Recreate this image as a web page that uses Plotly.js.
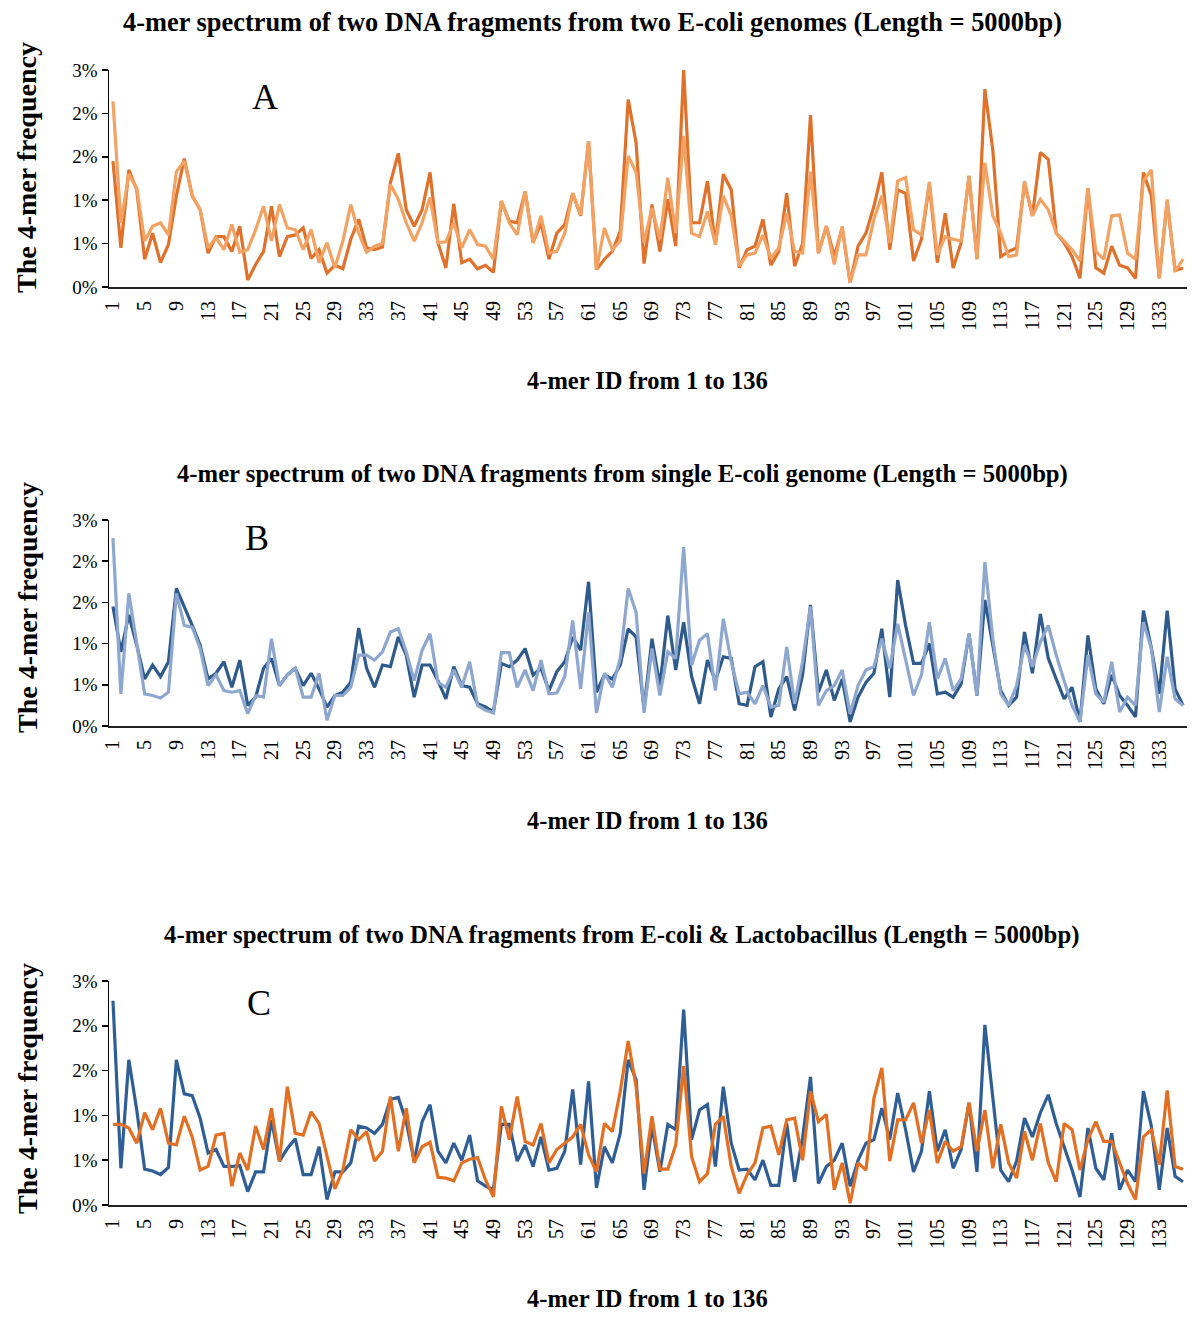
<!DOCTYPE html>
<html>
<head>
<meta charset="utf-8">
<script src="https://cdn.plot.ly/plotly-3.0.1.min.js"></script>
<style>html,body{margin:0;padding:0;background:#fff;}#chart{width:1200px;height:1321px;}</style>
</head>
<body>
<div id="chart"></div>
<script>
// 4-mer IDs (categories 1..136)
const kmerIds = [];
for (let i = 1; i <= 136; i++) kmerIds.push(i);

const xTickVals = [1,5,9,13,17,21,25,29,33,37,41,45,49,53,57,61,65,69,73,77,81,85,89,93,97,101,105,109,113,117,121,125,129,133];
const yTickVals = [0, 0.5, 1, 1.5, 2, 2.5];
const yTickText = ['0%','1%','1%','2%','2%','3%'];

const panelTitles = [
  '4-mer spectrum of two DNA fragments from two E-coli genomes (Length = 5000bp)',
  '4-mer spectrum of two DNA fragments from single E-coli genome (Length = 5000bp)',
  '4-mer spectrum of two DNA fragments from E-coli &amp; Lactobacillus (Length = 5000bp)'
];
const panelLetters = ['A','B','C'];
const xTitle = '4-mer ID from 1 to 136';
const yTitle = 'The 4-mer frequency';

// Panel A (values in %)
const ecoliGenome1 = [1.45,0.45,1.35,1.12,0.32,0.62,0.28,0.49,1.05,1.48,
 1.05,0.89,0.39,0.58,0.58,0.41,0.70,0.08,0.26,0.41,
 0.93,0.35,0.58,0.60,0.68,0.33,0.43,0.16,0.25,0.21,
 0.55,0.78,0.45,0.43,0.46,1.20,1.54,0.89,0.70,0.89,
 1.32,0.51,0.22,0.96,0.28,0.32,0.21,0.25,0.17,0.99,
 0.76,0.74,1.10,0.51,0.74,0.32,0.62,0.72,1.08,0.82,
 1.68,0.20,0.32,0.41,0.64,2.16,1.66,0.27,0.95,0.41,
 1.01,0.47,2.50,0.74,0.74,1.22,0.49,1.30,1.12,0.22,
 0.43,0.47,0.78,0.25,0.41,1.08,0.24,0.50,1.98,0.39,
 0.70,0.35,0.68,0.05,0.47,0.62,0.93,1.32,0.43,1.12,
 1.08,0.30,0.55,1.18,0.28,0.85,0.22,0.51,1.28,0.32,
 2.28,1.58,0.35,0.41,0.45,1.20,0.82,1.55,1.47,0.62,
 0.51,0.35,0.10,1.14,0.22,0.16,0.47,0.25,0.22,0.10,
 1.32,1.05,0.10,0.99,0.19,0.22];
const ecoliGenome2 = [2.14,0.74,1.30,1.14,0.53,0.70,0.74,0.60,1.33,1.45,
 1.05,0.89,0.45,0.57,0.43,0.72,0.40,0.43,0.66,0.93,
 0.53,0.95,0.68,0.66,0.43,0.66,0.28,0.51,0.22,0.53,
 0.95,0.62,0.40,0.47,0.50,1.18,1.01,0.74,0.53,0.74,
 1.03,0.51,0.52,0.74,0.45,0.66,0.49,0.47,0.32,0.99,
 0.74,0.60,1.10,0.51,0.82,0.39,0.41,0.62,1.08,0.83,
 1.68,0.20,0.68,0.43,0.53,1.51,1.32,0.51,0.91,0.55,
 1.26,0.62,1.74,0.62,0.58,0.87,0.49,1.05,0.82,0.24,
 0.37,0.39,0.60,0.33,0.45,0.85,0.41,0.39,1.33,0.39,
 0.70,0.26,0.70,0.05,0.37,0.37,0.78,1.05,0.51,1.22,
 1.26,0.66,0.60,1.21,0.37,0.58,0.55,0.53,1.28,0.33,
 1.43,0.82,0.62,0.35,0.37,1.22,0.82,1.01,0.89,0.62,
 0.53,0.43,0.30,1.14,0.41,0.32,0.82,0.83,0.39,0.32,
 1.22,1.35,0.10,1.01,0.18,0.32];

// Panel B
const singleFrag1 = [1.45,0.90,1.35,0.98,0.57,0.74,0.60,0.78,1.67,1.45,
 1.22,0.98,0.57,0.64,0.78,0.47,0.80,0.25,0.35,0.70,
 0.82,0.49,0.62,0.70,0.49,0.64,0.45,0.23,0.37,0.41,
 0.53,1.19,0.70,0.47,0.74,0.72,1.08,0.86,0.35,0.74,
 0.74,0.55,0.33,0.72,0.49,0.47,0.27,0.23,0.17,0.76,
 0.72,0.80,0.94,0.62,0.70,0.43,0.66,0.78,1.08,0.92,
 1.75,0.41,0.62,0.57,0.74,1.18,1.08,0.21,1.06,0.49,
 1.34,0.68,1.26,0.60,0.27,0.80,0.55,0.84,0.82,0.27,
 0.25,0.72,0.78,0.11,0.45,0.60,0.19,0.62,1.47,0.41,
 0.68,0.31,0.57,0.05,0.35,0.53,0.64,1.18,0.35,1.77,
 1.22,0.76,0.76,1.00,0.39,0.41,0.35,0.51,1.12,0.37,
 1.53,0.98,0.43,0.25,0.35,1.14,0.64,1.36,0.82,0.57,
 0.33,0.47,0.05,1.10,0.45,0.27,0.62,0.37,0.25,0.11,
 1.40,0.95,0.39,1.40,0.45,0.25];
const singleFrag2 = [2.28,0.39,1.61,0.98,0.39,0.37,0.34,0.41,1.61,1.22,
 1.20,0.94,0.49,0.62,0.43,0.41,0.43,0.15,0.37,0.35,
 1.06,0.49,0.62,0.70,0.35,0.35,0.64,0.07,0.37,0.37,
 0.47,0.86,0.86,0.80,0.90,1.14,1.18,0.90,0.55,0.92,
 1.12,0.53,0.47,0.68,0.47,0.78,0.25,0.19,0.16,0.89,
 0.89,0.47,0.68,0.43,0.80,0.39,0.40,0.60,1.28,0.45,
 1.38,0.16,0.64,0.47,0.82,1.67,1.38,0.16,0.94,0.37,
 0.90,0.82,2.17,0.74,1.04,1.12,0.43,1.30,0.78,0.39,
 0.41,0.27,0.49,0.23,0.25,0.96,0.27,0.78,1.45,0.25,
 0.43,0.49,0.68,0.15,0.49,0.68,0.72,1.06,0.70,1.24,
 0.82,0.37,0.62,1.26,0.57,0.82,0.43,0.57,1.12,0.37,
 1.99,1.06,0.39,0.25,0.49,0.98,0.72,1.02,1.22,0.86,
 0.55,0.25,0.05,0.86,0.39,0.29,0.78,0.17,0.35,0.25,
 1.26,0.94,0.17,0.84,0.33,0.25];

// Panel C
const ecoliFrag = [2.28,0.41,1.62,1.06,0.40,0.38,0.34,0.42,1.62,1.24,
 1.22,0.97,0.58,0.62,0.43,0.43,0.44,0.15,0.37,0.37,
 0.95,0.49,0.63,0.74,0.34,0.34,0.65,0.06,0.37,0.37,
 0.47,0.88,0.86,0.80,0.90,1.18,1.20,0.93,0.49,0.93,
 1.12,0.60,0.47,0.69,0.50,0.78,0.27,0.21,0.17,0.90,
 0.90,0.49,0.67,0.43,0.76,0.39,0.41,0.60,1.29,0.45,
 1.38,0.19,0.65,0.47,0.80,1.62,1.40,0.17,0.88,0.37,
 0.90,0.84,2.18,0.73,1.06,1.12,0.43,1.32,0.69,0.39,
 0.40,0.28,0.50,0.22,0.22,0.91,0.26,0.75,1.43,0.24,
 0.43,0.50,0.69,0.21,0.50,0.69,0.73,1.08,0.73,1.25,
 0.84,0.37,0.60,1.27,0.60,0.84,0.41,0.62,1.14,0.37,
 2.01,1.21,0.39,0.26,0.49,0.97,0.76,1.03,1.23,0.91,
 0.65,0.39,0.09,0.86,0.41,0.28,0.80,0.17,0.39,0.26,
 1.27,0.88,0.17,0.86,0.32,0.26];
const lactoFrag = [0.90,0.90,0.86,0.69,1.03,0.84,1.08,0.69,0.67,0.99,
 0.76,0.39,0.43,0.78,0.80,0.21,0.58,0.39,0.88,0.62,
 1.08,0.49,1.32,0.80,0.78,1.04,0.91,0.54,0.18,0.39,
 0.84,0.73,0.82,0.49,0.60,1.21,0.60,1.08,0.47,0.65,
 0.70,0.31,0.30,0.27,0.47,0.51,0.53,0.28,0.09,1.10,
 0.73,1.21,0.71,0.67,0.91,0.47,0.62,0.69,0.76,0.90,
 0.56,0.37,0.91,0.82,1.27,1.83,1.32,0.35,0.99,0.40,
 0.40,0.67,1.55,0.54,0.26,0.35,0.90,0.99,0.43,0.13,
 0.34,0.47,0.86,0.88,0.56,0.95,0.97,0.50,1.27,0.93,
 1.01,0.17,0.47,0.02,0.47,0.39,1.19,1.53,0.49,0.95,
 0.95,1.14,0.69,1.06,0.47,0.71,0.60,0.65,1.14,0.60,
 1.06,0.41,0.90,0.47,0.30,0.82,0.50,0.91,0.47,0.26,
 0.91,0.84,0.39,0.73,0.93,0.71,0.71,0.47,0.24,0.06,
 0.76,0.84,0.45,1.28,0.43,0.40];

const W = 1200, H = 1321;
const plotLeft = 109, plotRight = 1187;
// pixel positions of each panel's y-range (top = 2.5%, bottom = 0%)
const panels = [
  {top: 70, bottom: 287, titleY: 22, titleX: 592, titleSize: 26.4, xTitleY: 380, yTitleY: 168, letterX: 265, letterY: 97},
  {top: 520, bottom: 726, titleY: 474, titleX: 622, titleSize: 24.7, xTitleY: 820, yTitleY: 608, letterX: 257, letterY: 538},
  {top: 981, bottom: 1205, titleY: 935, titleX: 621, titleSize: 24.8, xTitleY: 1298, yTitleY: 1089, letterX: 259, letterY: 1003}
];

const serif = 'Liberation Serif, Times New Roman, serif';
const lw = 3.2;
const traces = [
  {x: kmerIds, y: ecoliGenome1, xaxis: 'x', yaxis: 'y', line: {color: '#E0712B', width: lw}},
  {x: kmerIds, y: ecoliGenome2, xaxis: 'x', yaxis: 'y', line: {color: '#F2A262', width: lw}},
  {x: kmerIds, y: singleFrag1, xaxis: 'x2', yaxis: 'y2', line: {color: '#2E5A8C', width: lw}},
  {x: kmerIds, y: singleFrag2, xaxis: 'x2', yaxis: 'y2', line: {color: '#8EA7CF', width: lw}},
  {x: kmerIds, y: ecoliFrag, xaxis: 'x3', yaxis: 'y3', line: {color: '#2F5E96', width: lw}},
  {x: kmerIds, y: lactoFrag, xaxis: 'x3', yaxis: 'y3', line: {color: '#E26F22', width: lw}}
].map(t => Object.assign({type: 'scatter', mode: 'lines', hoverinfo: 'skip'}, t));

const layout = {
  width: W, height: H,
  margin: {l: 0, r: 0, t: 0, b: 0},
  paper_bgcolor: '#fff', plot_bgcolor: '#fff',
  showlegend: false,
  font: {family: serif, color: '#000'},
  annotations: []
};

panels.forEach((p, i) => {
  const sfx = i === 0 ? '' : String(i + 1);
  layout['xaxis' + sfx] = {
    domain: [plotLeft / W, plotRight / W],
    range: [0.5, 136.5],
    anchor: 'y' + sfx,
    tickmode: 'array', tickvals: xTickVals, ticktext: xTickVals.map(String),
    tickangle: -90,
    tickfont: {family: serif, size: 20, color: '#000'},
    ticklabelstandoff: 4,
    ticks: '', showgrid: false, zeroline: false,
    showline: true, linecolor: '#222', linewidth: 2
  };
  layout['yaxis' + sfx] = {
    domain: [1 - p.bottom / H, 1 - p.top / H],
    range: [0, 2.5],
    anchor: 'x' + sfx,
    tickmode: 'array', tickvals: yTickVals, ticktext: yTickText,
    tickfont: {family: serif, size: 19, color: '#000'},
    ticks: 'outside', ticklen: 6, tickwidth: 1.5, tickcolor: '#000',
    showgrid: false, zeroline: false,
    showline: true, linecolor: '#000', linewidth: 1.5
  };
  layout.annotations.push(
    {text: '<b>' + panelTitles[i] + '</b>', xref: 'paper', yref: 'paper',
     x: p.titleX / W, y: 1 - p.titleY / H, xanchor: 'center', yanchor: 'middle',
     showarrow: false, font: {family: serif, size: p.titleSize, color: '#000'}},
    {text: '<b>' + xTitle + '</b>', xref: 'paper', yref: 'paper',
     x: 647 / W, y: 1 - p.xTitleY / H, xanchor: 'center', yanchor: 'middle',
     showarrow: false, font: {family: serif, size: 24.5, color: '#000'}},
    {text: '<b>' + yTitle + '</b>', xref: 'paper', yref: 'paper',
     x: 27 / W, y: 1 - p.yTitleY / H, xanchor: 'center', yanchor: 'middle', textangle: -90,
     showarrow: false, font: {family: serif, size: 28, color: '#000'}},
    {text: panelLetters[i], xref: 'paper', yref: 'paper',
     x: p.letterX / W, y: 1 - p.letterY / H, xanchor: 'center', yanchor: 'middle',
     showarrow: false, font: {family: serif, size: 36, color: '#000'}}
  );
});

Plotly.newPlot('chart', traces, layout, {displayModeBar: false, staticPlot: true});
</script>
</body>
</html>
